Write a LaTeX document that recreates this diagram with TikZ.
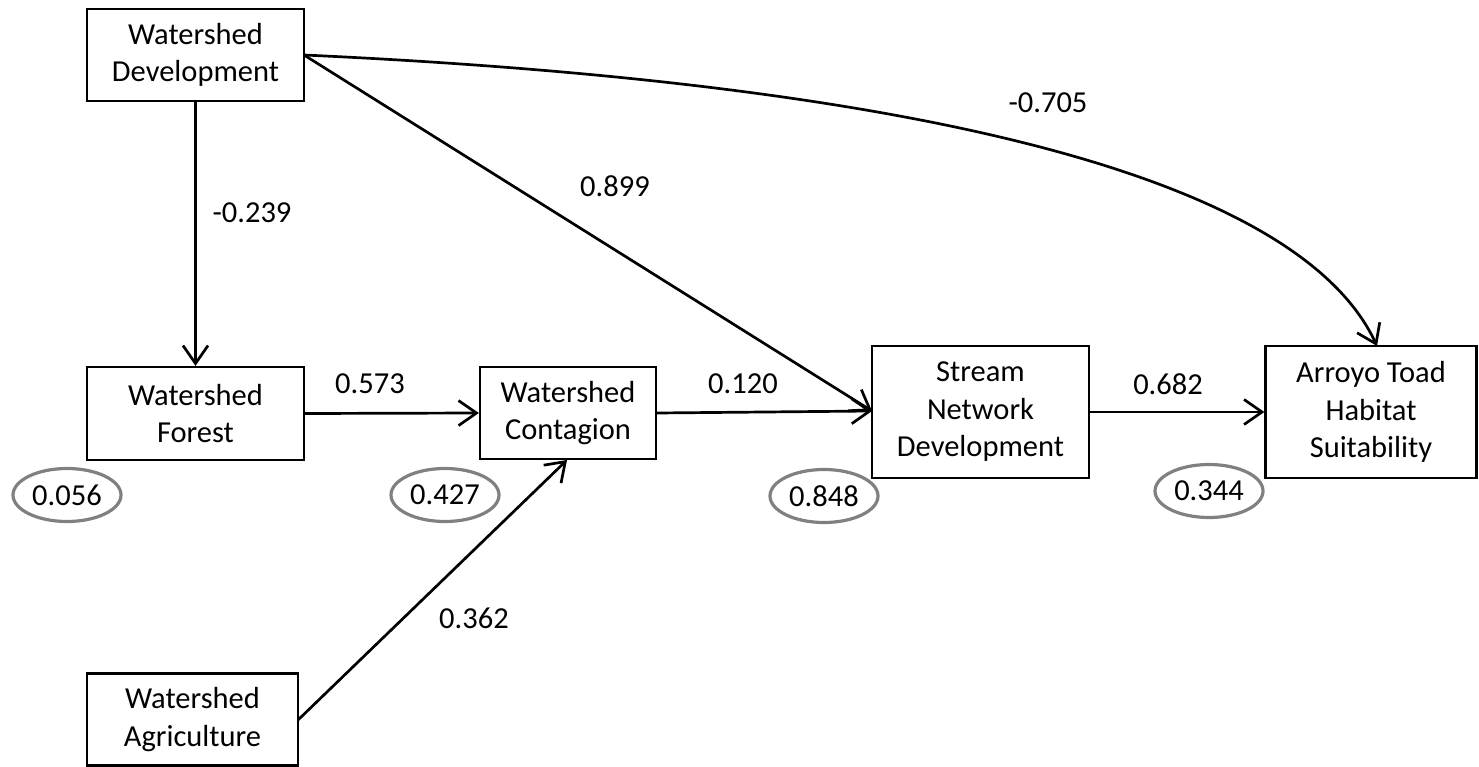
\documentclass[tikz,border=0pt]{standalone}
\usepackage{fontspec}
\setmainfont{Carlito}
\usetikzlibrary{arrows.meta,shapes.geometric}
\begin{document}
\begin{tikzpicture}[x=1pt,y=-1pt,
  every node/.style={font=\fontsize{30.5}{37.5}\selectfont},
  box/.style={draw=black,line width=2.2pt,align=center,inner sep=0pt,anchor=center},
  resid/.style={draw=black!50,line width=3.2pt,ellipse,minimum width=108pt,minimum height=53pt,inner sep=0pt},
  lab/.style={inner sep=0pt},
  arr/.style={line width=2.7pt,-{Straight Barb[length=18pt,width=25pt,line width=2.7pt]}}
]
\useasboundingbox (0,0) rectangle (1479,767);
% boxes
\node[box,minimum width=217pt,minimum height=92pt] (wd) at (195.5,55) {Watershed\\Development};
\node[box,minimum width=217pt,minimum height=93pt] (wf) at (195.5,413.5) {Watershed\\Forest};
\node[box,minimum width=176pt,minimum height=92pt] (wc) at (568,413) {Watershed\\Contagion};
\node[box,minimum width=217pt,minimum height=132pt] (snd) at (980.5,412) {Stream\\Network\\Development};
\node[box,minimum width=211pt,minimum height=132pt] (at) at (1371,412) {Arroyo Toad\\Habitat\\Suitability};
\node[box,minimum width=211pt,minimum height=92pt] (wa) at (192.5,719.5) {Watershed\\Agriculture};
% residual ellipses
\node[resid] (r1) at (67,495) {0.056};
\node[resid] (r2) at (445,495) {0.427};
\node[resid] (r3) at (824,496) {0.848};
\node[resid] (r4) at (1209,491) {0.344};
% anchor points
\coordinate (wdr) at (304,55);
\coordinate (sndin) at (872,411);
\coordinate (atin) at (1377,346);
\coordinate (war) at (298,720);
\coordinate (wcin) at (567,460);
% connectors
\draw[arr] (wd.south) -- (wf.north);
\draw[arr] (wf.east) -- (wc.west);
\draw[arr] (wc.east) -- (sndin);
\draw[arr] (wdr) -- (sndin);
\draw[arr] (wdr) .. controls (890,82) and (1295,170) .. (atin);
\draw[arr] (snd.east) -- (at.west);
\draw[arr] (war) -- (wcin);
% labels
\node[lab] (l1) at (252,213) {-0.239};
\node[lab] (l2) at (615,186) {0.899};
\node[lab] (l3) at (1048,103) {-0.705};
\node[lab] (l4) at (370,384) {0.573};
\node[lab] (l5) at (743,384) {0.120};
\node[lab] (l6) at (1168,384) {0.682};
\node[lab] (l7) at (474,618) {0.362};
\end{tikzpicture}
\end{document}
